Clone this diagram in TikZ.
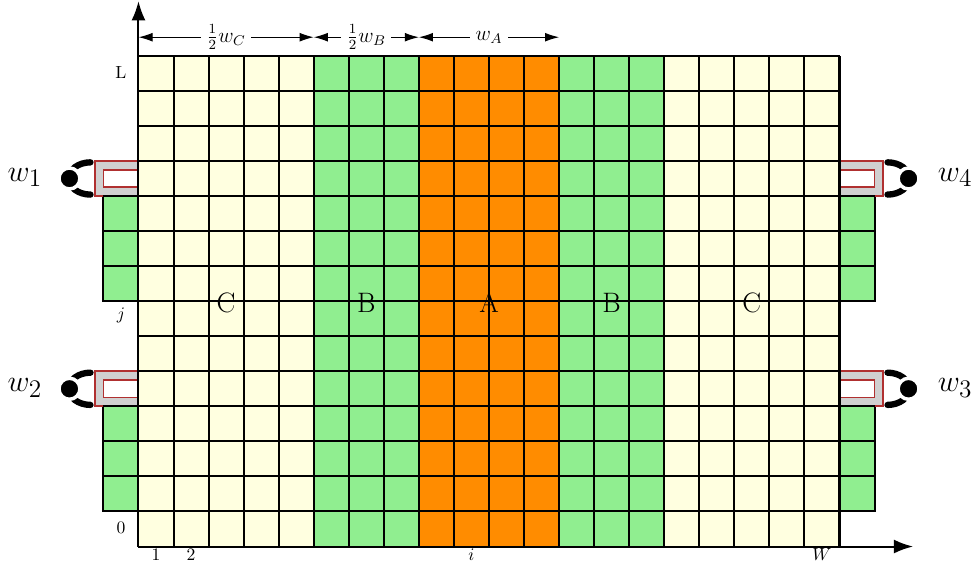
\documentclass[tikz,border=0pt]{standalone}
\usepackage{amsmath,amssymb}
\usepackage{xcolor}
\usepackage{tikz}
\usetikzlibrary{arrows.meta,calc,positioning}
\definecolor{zonea}{HTML}{FF8C00}
\definecolor{zoneb}{HTML}{90EE90}
\definecolor{zonec}{HTML}{FFFFE0}
\definecolor{contactred}{HTML}{B03030}
\definecolor{contactgray}{HTML}{D0D0D0}
\tikzset{
  cellline/.style={line width=1.15pt,black},
  axisline/.style={-{Latex[length=11pt,width=8pt]},line width=1.15pt},
  widtharrow/.style={{Latex[length=8pt,width=5pt]}-{Latex[length=8pt,width=5pt]},line width=0.6pt},
  widthlabel/.style={fill=white,inner sep=3pt,font=\large},
  ticklabel/.style={font=\normalsize,inner sep=0pt},
  zonelabel/.style={font=\fontsize{16}{18}\selectfont,inner sep=0pt},
  portlabel/.style={font=\fontsize{19}{22}\selectfont,inner sep=0pt},
  padbox/.style={draw=contactred,fill=contactgray,line width=1pt},
  padslot/.style={draw=contactred,fill=white,line width=1pt},
  probearc/.style={line width=3.6pt,line cap=round,black},
  probedot/.style={circle,fill=black,draw=white,line width=0.07cm,minimum size=0.42cm,inner sep=0pt}
}
\begin{document}
\begin{tikzpicture}[x=0.701cm,y=0.701cm]
  \useasboundingbox (-3.951,-0.442) rectangle (23.78,15.592);
  \coordinate (O) at (0,0);
  \coordinate (xend) at (22.1,0);
  \coordinate (yend) at (0,15.56);
  % side tabs
  \foreach \y in {1,2,3,7,8,9}{
    \draw[cellline,fill=zoneb] (-1,\y) rectangle (0,\y+1);
    \draw[cellline,fill=zoneb] (20,\y) rectangle (21,\y+1);
  }
  % the zones, column by column
  \foreach \xa/\xb/\col in {0/5/zonec,5/8/zoneb,8/12/zonea,12/15/zoneb,15/20/zonec}{
    \fill[\col] (\xa,0) rectangle (\xb,14);
  }
  \draw[cellline,step=0.701cm] (0,0) grid (20,14);
  % contacts
  \foreach \y in {4,10}{
    \draw[padbox] (0,\y) -- (-1.25,\y) -- (-1.25,\y+1) -- (0,\y+1);
    \draw[padslot] (0,\y+0.25) -- (-1,\y+0.25) -- (-1,\y+0.75) -- (0,\y+0.75);
    \draw[padbox] (20,\y) -- (21.25,\y) -- (21.25,\y+1) -- (20,\y+1);
    \draw[padslot] (20,\y+0.25) -- (21,\y+0.25) -- (21,\y+0.75) -- (20,\y+0.75);
    \draw[cellline] (-1,\y) -- (0,\y) (20,\y) -- (21,\y);
    \draw[probearc] (-1.37,\y+0.96) arc[start angle=90,end angle=270,x radius=0.62,y radius=0.46];
    \draw[probearc] (21.37,\y+0.96) arc[start angle=90,end angle=-90,x radius=0.62,y radius=0.46];
    \node[probedot] (dotl\y) at (-1.97,\y+0.5) {};
    \node[probedot] (dotr\y) at (21.97,\y+0.5) {};
  }
  \draw[cellline] (0,0) -- (0,14) (20,0) -- (20,14);
  % axes
  \draw[axisline] (O) -- (xend);
  \draw[axisline] (O) -- (yend);
  % widths on top
  \coordinate (wa) at (0,14.53);
  \coordinate (wb) at (5,14.53);
  \coordinate (wc) at (8,14.53);
  \coordinate (wd) at (12,14.53);
  \draw[widtharrow] (wa) -- (wb) node[midway,widthlabel] (lc) {$\frac{1}{2}w_C$};
  \draw[widtharrow] (wb) -- (wc) node[midway,widthlabel] (lb) {$\frac{1}{2}w_B$};
  \draw[widtharrow] (wc) -- (wd) node[midway,widthlabel] (la) {$w_A$};
  % labels
  \node[ticklabel] (tl) at (-0.5,13.53) {L};
  \node[ticklabel] (tj) at (-0.5,6.58) {$j$};
  \node[ticklabel] (t0) at (-0.5,0.53) {0};
  \node[ticklabel] (t1) at (0.5,-0.22) {1};
  \node[ticklabel] (t2) at (1.5,-0.22) {2};
  \node[ticklabel] (ti) at (9.5,-0.22) {$i$};
  \node[ticklabel] (tw) at (19.5,-0.22) {$W$};
  \node[zonelabel] (zc1) at (2.5,6.95) {C};
  \node[zonelabel] (zb1) at (6.5,6.95) {B};
  \node[zonelabel] (za) at (10,6.95) {A};
  \node[zonelabel] (zb2) at (13.5,6.95) {B};
  \node[zonelabel] (zc2) at (17.5,6.95) {C};
  \node[portlabel] (p1) at (-3.24,10.53) {$w_1$};
  \node[portlabel] (p2) at (-3.24,4.53) {$w_2$};
  \node[portlabel] (p4) at (23.3,10.53) {$w_4$};
  \node[portlabel] (p3) at (23.3,4.53) {$w_3$};
\end{tikzpicture}
\end{document}
